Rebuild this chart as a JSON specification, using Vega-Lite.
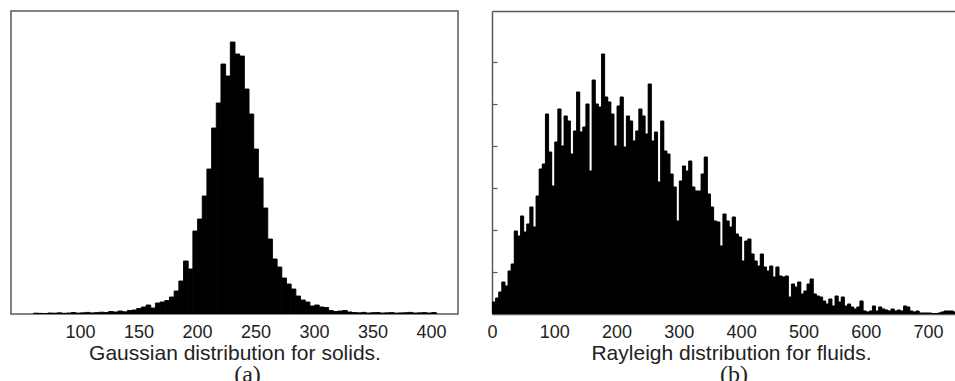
{
  "$schema": "https://vega.github.io/schema/vega-lite/v6.json",
  "padding": {"left": 10, "top": 10, "right": 0, "bottom": 0},
  "background": "white",
  "config": {
    "font": "Liberation Sans",
    "view": {"stroke": null},
    "concat": {"spacing": 27},
    "axis": {"grid": false}
  },
  "datasets": {
    "gauss": [
      {"lo":60,"hi":64,"n":0.8},{"lo":64,"hi":68,"n":0.6},{"lo":68,"hi":72,"n":0.5},{"lo":72,"hi":76,"n":1.0},
      {"lo":76,"hi":80,"n":0.8},{"lo":80,"hi":84,"n":1.2},{"lo":84,"hi":88,"n":0.7},{"lo":88,"hi":92,"n":1.0},
      {"lo":92,"hi":96,"n":1.5},{"lo":96,"hi":100,"n":0.9},{"lo":100,"hi":104,"n":1.2},{"lo":104,"hi":108,"n":1.6},
      {"lo":108,"hi":112,"n":1.1},{"lo":112,"hi":116,"n":1.4},{"lo":116,"hi":120,"n":1.8},{"lo":120,"hi":124,"n":1.5},
      {"lo":124,"hi":128,"n":2.5},{"lo":128,"hi":132,"n":2.0},{"lo":132,"hi":136,"n":3.0},{"lo":136,"hi":140,"n":2.2},
      {"lo":140,"hi":144,"n":3.5},{"lo":144,"hi":148,"n":4.0},{"lo":148,"hi":152,"n":5.5},{"lo":152,"hi":156,"n":7},
      {"lo":156,"hi":160,"n":9},{"lo":160,"hi":164,"n":6},{"lo":164,"hi":168,"n":11},{"lo":168,"hi":172,"n":12},
      {"lo":172,"hi":176,"n":13.5},{"lo":176,"hi":180,"n":17},{"lo":180,"hi":184,"n":23},{"lo":184,"hi":188,"n":33},
      {"lo":188,"hi":192,"n":53},{"lo":192,"hi":196,"n":45},{"lo":196,"hi":200,"n":83},{"lo":200,"hi":204,"n":95},
      {"lo":204,"hi":208,"n":118},{"lo":208,"hi":212,"n":145},{"lo":212,"hi":216,"n":186},{"lo":216,"hi":220,"n":211},
      {"lo":220,"hi":224,"n":250},{"lo":224,"hi":228,"n":238},{"lo":228,"hi":232,"n":272},{"lo":232,"hi":236,"n":260},
      {"lo":236,"hi":240,"n":258},{"lo":240,"hi":244,"n":225},{"lo":244,"hi":248,"n":200},{"lo":248,"hi":252,"n":165},
      {"lo":252,"hi":256,"n":136},{"lo":256,"hi":260,"n":106},{"lo":260,"hi":264,"n":75},{"lo":264,"hi":268,"n":55},
      {"lo":268,"hi":272,"n":47},{"lo":272,"hi":276,"n":36},{"lo":276,"hi":280,"n":30},{"lo":280,"hi":284,"n":25},
      {"lo":284,"hi":288,"n":18},{"lo":288,"hi":292,"n":14},{"lo":292,"hi":296,"n":12},{"lo":296,"hi":300,"n":8},
      {"lo":300,"hi":304,"n":9},{"lo":304,"hi":308,"n":7},{"lo":308,"hi":312,"n":6.5},{"lo":312,"hi":316,"n":3.5},
      {"lo":316,"hi":320,"n":2.5},{"lo":320,"hi":324,"n":3},{"lo":324,"hi":328,"n":3.5},{"lo":328,"hi":332,"n":2},
      {"lo":332,"hi":336,"n":1.5},{"lo":336,"hi":340,"n":1.2},{"lo":340,"hi":344,"n":1.6},{"lo":344,"hi":348,"n":1},
      {"lo":348,"hi":352,"n":1.3},{"lo":352,"hi":356,"n":1.5},{"lo":356,"hi":360,"n":1},{"lo":360,"hi":364,"n":1.2},
      {"lo":364,"hi":368,"n":1.4},{"lo":368,"hi":372,"n":0.9},{"lo":372,"hi":376,"n":1.1},{"lo":376,"hi":380,"n":1.3},
      {"lo":380,"hi":384,"n":1.6},{"lo":384,"hi":388,"n":1},{"lo":388,"hi":392,"n":1.2},{"lo":392,"hi":396,"n":1.4},
      {"lo":396,"hi":400,"n":1.0},{"lo":400,"hi":404,"n":1.5}
    ],
    "rayl": [
      {"lo":0,"hi":5,"n":12},{"lo":5,"hi":10,"n":16},{"lo":10,"hi":15,"n":22},{"lo":15,"hi":20,"n":32},
      {"lo":20,"hi":25,"n":28},{"lo":25,"hi":30,"n":43},{"lo":30,"hi":35,"n":50},{"lo":35,"hi":40,"n":83},
      {"lo":40,"hi":45,"n":78},{"lo":45,"hi":50,"n":98},{"lo":50,"hi":55,"n":82},{"lo":55,"hi":60,"n":90},
      {"lo":60,"hi":65,"n":107},{"lo":65,"hi":70,"n":87},{"lo":70,"hi":75,"n":118},{"lo":75,"hi":80,"n":145},
      {"lo":80,"hi":85,"n":150},{"lo":85,"hi":90,"n":200},{"lo":90,"hi":95,"n":162},{"lo":95,"hi":100,"n":128},
      {"lo":100,"hi":105,"n":172},{"lo":105,"hi":110,"n":205},{"lo":110,"hi":115,"n":168},{"lo":115,"hi":120,"n":198},
      {"lo":120,"hi":125,"n":193},{"lo":125,"hi":130,"n":160},{"lo":130,"hi":135,"n":183},{"lo":135,"hi":140,"n":222},
      {"lo":140,"hi":145,"n":182},{"lo":145,"hi":150,"n":187},{"lo":150,"hi":155,"n":210},{"lo":155,"hi":160,"n":143},
      {"lo":160,"hi":165,"n":234},{"lo":165,"hi":170,"n":210},{"lo":170,"hi":175,"n":207},{"lo":175,"hi":180,"n":260},
      {"lo":180,"hi":185,"n":217},{"lo":185,"hi":190,"n":212},{"lo":190,"hi":195,"n":200},{"lo":195,"hi":200,"n":168},
      {"lo":200,"hi":205,"n":208},{"lo":205,"hi":210,"n":217},{"lo":210,"hi":215,"n":167},{"lo":215,"hi":220,"n":198},
      {"lo":220,"hi":225,"n":193},{"lo":225,"hi":230,"n":173},{"lo":230,"hi":235,"n":183},{"lo":235,"hi":240,"n":205},
      {"lo":240,"hi":245,"n":198},{"lo":245,"hi":250,"n":180},{"lo":250,"hi":255,"n":230},{"lo":255,"hi":260,"n":173},
      {"lo":260,"hi":265,"n":182},{"lo":265,"hi":270,"n":132},{"lo":270,"hi":275,"n":193},{"lo":275,"hi":280,"n":163},
      {"lo":280,"hi":285,"n":160},{"lo":285,"hi":290,"n":140},{"lo":290,"hi":295,"n":127},{"lo":295,"hi":300,"n":93},
      {"lo":300,"hi":305,"n":133},{"lo":305,"hi":310,"n":148},{"lo":310,"hi":315,"n":143},{"lo":315,"hi":320,"n":153},
      {"lo":320,"hi":325,"n":127},{"lo":325,"hi":330,"n":123},{"lo":330,"hi":335,"n":123},{"lo":335,"hi":340,"n":140},
      {"lo":340,"hi":345,"n":157},{"lo":345,"hi":350,"n":120},{"lo":350,"hi":355,"n":107},{"lo":355,"hi":360,"n":93},
      {"lo":360,"hi":365,"n":92},{"lo":365,"hi":370,"n":68},{"lo":370,"hi":375,"n":100},{"lo":375,"hi":380,"n":93},
      {"lo":380,"hi":385,"n":87},{"lo":385,"hi":390,"n":97},{"lo":390,"hi":395,"n":80},{"lo":395,"hi":400,"n":77},
      {"lo":400,"hi":405,"n":53},{"lo":405,"hi":410,"n":73},{"lo":410,"hi":415,"n":75},{"lo":415,"hi":420,"n":60},
      {"lo":420,"hi":425,"n":53},{"lo":425,"hi":430,"n":48},{"lo":430,"hi":435,"n":60},{"lo":435,"hi":440,"n":47},
      {"lo":440,"hi":445,"n":43},{"lo":445,"hi":450,"n":48},{"lo":450,"hi":455,"n":37},{"lo":455,"hi":460,"n":47},
      {"lo":460,"hi":465,"n":38},{"lo":465,"hi":470,"n":37},{"lo":470,"hi":475,"n":38},{"lo":475,"hi":480,"n":17},
      {"lo":480,"hi":485,"n":30},{"lo":485,"hi":490,"n":27},{"lo":490,"hi":495,"n":32},{"lo":495,"hi":500,"n":20},
      {"lo":500,"hi":505,"n":23},{"lo":505,"hi":510,"n":30},{"lo":510,"hi":515,"n":35},{"lo":515,"hi":520,"n":20},
      {"lo":520,"hi":525,"n":18},{"lo":525,"hi":530,"n":17},{"lo":530,"hi":535,"n":13},{"lo":535,"hi":540,"n":10},
      {"lo":540,"hi":545,"n":15},{"lo":545,"hi":550,"n":8},{"lo":550,"hi":555,"n":18},{"lo":555,"hi":560,"n":12},
      {"lo":560,"hi":565,"n":17},{"lo":565,"hi":570,"n":8},{"lo":570,"hi":575,"n":10},{"lo":575,"hi":580,"n":7},
      {"lo":580,"hi":585,"n":5},{"lo":585,"hi":590,"n":7},{"lo":590,"hi":595,"n":13},{"lo":595,"hi":600,"n":3},
      {"lo":600,"hi":605,"n":2},{"lo":605,"hi":610,"n":3},{"lo":610,"hi":615,"n":8},{"lo":615,"hi":620,"n":3},
      {"lo":620,"hi":625,"n":7},{"lo":625,"hi":630,"n":5},{"lo":630,"hi":635,"n":4},{"lo":635,"hi":640,"n":3},
      {"lo":640,"hi":645,"n":5},{"lo":645,"hi":650,"n":3},{"lo":650,"hi":655,"n":4},{"lo":655,"hi":660,"n":3},
      {"lo":660,"hi":665,"n":8},{"lo":665,"hi":670,"n":7},{"lo":670,"hi":675,"n":3},{"lo":675,"hi":680,"n":2},
      {"lo":680,"hi":685,"n":3},{"lo":685,"hi":690,"n":1},{"lo":690,"hi":695,"n":1},{"lo":695,"hi":700,"n":1},
      {"lo":700,"hi":705,"n":1},{"lo":705,"hi":710,"n":0.5},{"lo":710,"hi":715,"n":0.5},{"lo":715,"hi":720,"n":1},
      {"lo":720,"hi":725,"n":2},{"lo":725,"hi":730,"n":3},{"lo":730,"hi":735,"n":3},{"lo":735,"hi":740,"n":3},
      {"lo":740,"hi":745,"n":2}
    ]
  },
  "hconcat": [
    {
      "width": 447,
      "height": 303,
      "data": {"name": "gauss"},
      "view": {"stroke": "#5a5a5a", "strokeWidth": 1.5},
      "title": {"text": "(a)", "orient": "bottom", "font": "Liberation Serif", "fontSize": 24, "fontWeight": "normal", "color": "#222", "dx": 13, "offset": 0},
      "mark": {"type": "bar", "color": "#000", "stroke": "#000", "strokeWidth": 0.9, "binSpacing": 0, "clip": true},
      "encoding": {
        "x": {
          "field": "lo", "type": "quantitative", "bin": {"binned": true},
          "scale": {"domain": [41, 423], "nice": false},
          "axis": {
            "values": [100, 150, 200, 250, 300, 350, 400],
            "domain": false, "ticks": false, "tickSize": 0, "labelFlush": false,
            "labelPadding": 9, "labelFontSize": 18, "labelColor": "#222",
            "title": "Gaussian distribution for solids.",
            "titleFontSize": 21, "titleFontWeight": "normal", "titleColor": "#222",
            "titleBaseline": "alphabetic", "titleY": 45
          }
        },
        "x2": {"field": "hi"},
        "y": {"field": "n", "type": "quantitative", "scale": {"domain": [0, 303], "nice": false}, "axis": null}
      }
    },
    {
      "width": 464,
      "height": 303,
      "data": {"name": "rayl"},
      "view": {"stroke": null},
      "title": {"text": "(b)", "orient": "bottom", "font": "Liberation Serif", "fontSize": 24, "fontWeight": "normal", "color": "#222", "dx": 10, "offset": 0},
      "layer": [
        {
          "mark": {"type": "bar", "color": "#000", "stroke": "#000", "strokeWidth": 0.6, "binSpacing": 0, "clip": true},
          "encoding": {
            "x": {
              "field": "lo", "type": "quantitative", "bin": {"binned": true},
              "scale": {"domain": [0, 745], "nice": false},
              "axis": {
                "values": [0, 100, 200, 300, 400, 500, 600, 700],
                "domain": true, "domainColor": "#5a5a5a", "domainWidth": 1.5,
                "ticks": false, "tickSize": 0, "labelFlush": false,
                "labelPadding": 9, "labelFontSize": 18, "labelColor": "#222",
                "title": "Rayleigh distribution for fluids.",
                "titleFontSize": 21, "titleFontWeight": "normal", "titleColor": "#222",
                "titleBaseline": "alphabetic", "titleY": 45, "titleX": 239
              }
            },
            "x2": {"field": "hi"},
            "y": {
              "field": "n", "type": "quantitative",
              "scale": {"domain": [0, 303], "nice": false},
              "axis": {
                "orient": "left", "values": [42, 84, 126, 168, 210, 252],
                "labels": false, "ticks": true, "tickSize": -5, "tickColor": "#5a5a5a", "tickWidth": 1.2,
                "domain": true, "domainColor": "#5a5a5a", "domainWidth": 1.5,
                "title": null, "minExtent": 0, "grid": false
              }
            }
          }
        },
        {
          "mark": {"type": "bar", "color": "#000", "stroke": "#000", "strokeWidth": 0.6, "binSpacing": 0, "clip": true},
          "encoding": {
            "x": {
              "field": "lo", "type": "quantitative", "bin": {"binned": true},
              "axis": {"orient": "top", "labels": false, "ticks": false, "domain": true, "domainColor": "#5a5a5a", "domainWidth": 1.5, "title": null, "grid": false}
            },
            "x2": {"field": "hi"},
            "y": {"field": "n", "type": "quantitative"}
          }
        }
      ],
      "resolve": {"axis": {"x": "independent"}}
    }
  ]
}
